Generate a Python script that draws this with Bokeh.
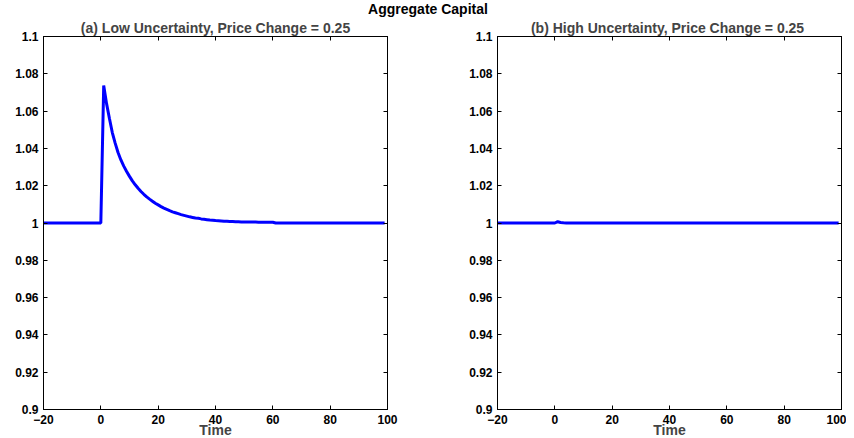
from bokeh.plotting import figure
from bokeh.models import LinearAxis, FixedTicker, Div, Range1d, CustomLabelingPolicy
from bokeh.layouts import row, column
from bokeh.embed import file_html
from bokeh.resources import INLINE

main_title = "Aggregate Capital"
title_a = "(a) Low Uncertainty, Price Change = 0.25"
title_b = "(b) High Uncertainty,  Price Change = 0.25"
x_label = "Time"

x_ticks = [-20, 0, 20, 40, 60, 80, 100]
x_tick_labels = ["\u221220", "0", "20", "40", "60", "80", "100"]
y_ticks = [0.9, 0.92, 0.94, 0.96, 0.98, 1.0, 1.02, 1.04, 1.06, 1.08, 1.1]
y_tick_labels = ["0.9", "0.92", "0.94", "0.96", "0.98", "1", "1.02", "1.04", "1.06", "1.08", "1.1"]

# (a) low uncertainty
time_a = [-20, 0, 1, 2, 3, 4, 5, 6, 7, 8, 9, 10,
          11, 12, 13, 14, 15, 16, 17, 18, 19, 20,
          21, 22, 23, 24, 25, 26, 27, 28, 29, 30,
          31, 32, 33, 34, 35, 36, 37, 38, 39, 40,
          41, 42, 43, 44, 45, 46, 47, 48, 49, 50,
          51, 52, 53, 54, 55, 56, 57, 58, 59, 60,
          61, 99]
capital_a = [1.0, 1.0, 1.0737, 1.0640, 1.0560, 1.0485, 1.0428, 1.0378, 1.0338, 1.0305, 1.0276, 1.0250,
             1.0226, 1.0205, 1.0186, 1.0169, 1.0154, 1.0140, 1.0128, 1.0117, 1.0106, 1.0097,
             1.0088, 1.0080, 1.0073, 1.0066, 1.0060, 1.0055, 1.0050, 1.0045, 1.0041, 1.0037,
             1.0033, 1.0030, 1.0027, 1.0025, 1.0022, 1.0020, 1.0018, 1.0016, 1.0015, 1.0013,
             1.0012, 1.0011, 1.0010, 1.0009, 1.0008, 1.0008, 1.0007, 1.0007, 1.0006, 1.0006,
             1.0005, 1.0005, 1.0005, 1.0005, 1.0004, 1.0004, 1.0004, 1.0004, 1.0004, 1.0004,
             1.0, 1.0]

# (b) high uncertainty
time_b = [-20, 0, 1, 2, 3, 4, 99]
capital_b = [1.0, 1.0, 1.0007, 1.0003, 1.0001, 1.0, 1.0]

FONT = "Liberation Sans"
LINE_COLOR = "#0000ff"

no_labels = CustomLabelingPolicy(
    code="for (let i = 0; i < indices.size; i++) { indices.set(i, false) } return indices")


def make_panel(title, xs, ys, border_left, border_right):
    p = figure(frame_width=344, frame_height=373,
               x_range=Range1d(-20, 100), y_range=Range1d(0.9, 1.1),
               output_backend="svg", toolbar_location=None,
               min_border_left=border_left, min_border_right=border_right,
               min_border_top=0, min_border_bottom=0,
               title=title)
    p.title.align = "center"
    p.title.text_font = FONT
    p.title.text_font_size = "14px"
    p.title.text_font_style = "bold"
    p.title.standoff = 2
    p.title.offset = 0
    p.grid.visible = False
    p.outline_line_color = "black"
    p.outline_line_width = 1
    p.border_fill_color = None
    p.background_fill_color = "white"

    top_axis = LinearAxis(major_label_policy=no_labels)
    right_axis = LinearAxis(major_label_policy=no_labels)
    p.add_layout(top_axis, "above")
    p.add_layout(right_axis, "right")

    for ax in p.xaxis:
        ax.ticker = FixedTicker(ticks=x_ticks)
        ax.major_label_overrides = {t: l for t, l in zip(x_ticks, x_tick_labels)}
    for ax in p.yaxis:
        ax.ticker = FixedTicker(ticks=y_ticks)
        ax.major_label_overrides = {t: l for t, l in zip(y_ticks, y_tick_labels)}

    for ax in list(p.xaxis) + list(p.yaxis):
        ax.major_tick_in = 4
        ax.major_tick_out = 0
        ax.minor_tick_line_color = None
        ax.axis_line_color = "black"
        ax.major_tick_line_color = "black"
        ax.major_label_text_font = FONT
        ax.major_label_text_font_style = "bold"
        ax.major_label_text_font_size = "12px"
        ax.major_label_text_color = "black"

    for ax in (top_axis, right_axis):
        ax.major_label_standoff = 0
        ax.major_label_text_font_size = "0px"

    bottom_axis = p.below[0]
    bottom_axis.major_label_standoff = 5
    bottom_axis.axis_label = x_label
    bottom_axis.axis_label_text_font = FONT
    bottom_axis.axis_label_text_font_style = "bold"
    bottom_axis.axis_label_text_font_size = "14px"
    bottom_axis.axis_label_standoff = -5
    p.left[0].major_label_standoff = 5

    p.line(xs, ys, line_color=LINE_COLOR, line_width=3)
    return p


p1 = make_panel(title_a, time_a, capital_a, 43, 40)
p2 = make_panel(title_b, time_b, capital_b, 70, 5)

header = Div(text='<div style="width:846px;text-align:center;font-family:\'Liberation Sans\';'
                  'font-weight:bold;font-size:14px;position:relative;top:-6px;">'
                  + main_title + '</div>',
             width=846, height=6)

layout = column(header, row(p1, p2, spacing=0), spacing=0)

open("out.html", "w").write(file_html(layout, INLINE))
